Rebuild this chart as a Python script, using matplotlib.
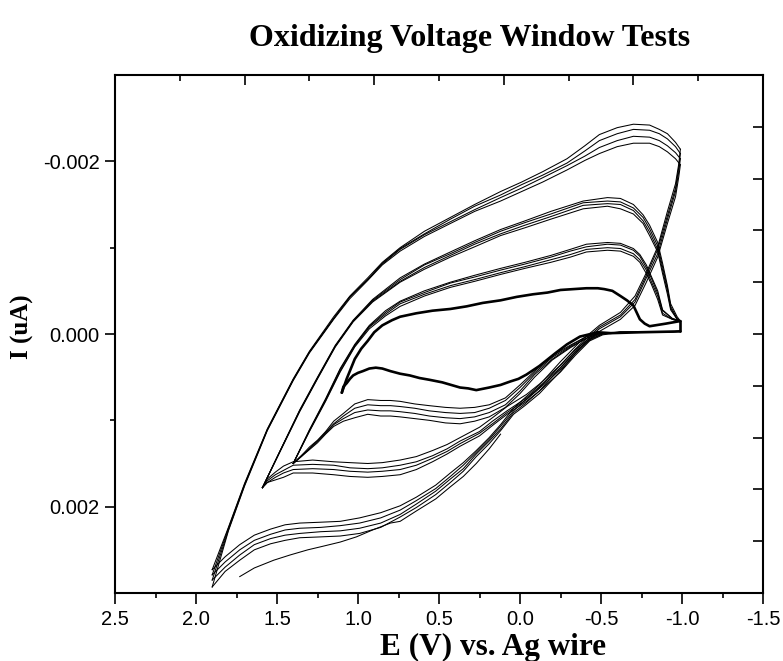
import matplotlib
matplotlib.use("Agg")
import matplotlib.pyplot as plt
from matplotlib.ticker import FixedLocator, FixedFormatter, NullFormatter

plt.rcParams['font.family'] = ['Liberation Sans', 'DejaVu Sans']
plt.rcParams['axes.unicode_minus'] = False

SCALE = 1e-3  # all current values below are given in units of 1e-3

# ---------------- Family 1: window up to 1.1 V (thick, noisy trace) ----------
E1_up = [1.10, 1.07, 1.02, 0.98, 0.94, 0.90, 0.85, 0.79, 0.74, 0.64, 0.54, 0.43, 0.33,
         0.23, 0.12, 0.02, -0.08, -0.17, -0.25, -0.33, -0.41, -0.48, -0.52, -0.57, -0.62,
         -0.66, -0.70, -0.72, -0.74, -0.77, -0.80, -0.90, -0.99]
I1_up = [0.68, 0.52, 0.29, 0.17, 0.08, -0.02, -0.10, -0.16, -0.20, -0.24, -0.27, -0.29,
         -0.32, -0.36, -0.39, -0.43, -0.46, -0.48, -0.51, -0.52, -0.53, -0.53, -0.52, -0.50,
         -0.44, -0.39, -0.33, -0.25, -0.17, -0.12, -0.09, -0.12, -0.15]
E1_fw = [-0.99, -0.74, -0.56, -0.48, -0.37, -0.29, -0.22, -0.12, -0.04, 0.01, 0.06, 0.12,
         0.19, 0.27, 0.32, 0.37, 0.48, 0.56, 0.62, 0.68, 0.74, 0.80, 0.85, 0.89, 0.93, 0.97,
         1.00, 1.03, 1.05, 1.07, 1.09, 1.10]
I1_fw = [-0.03, -0.02, -0.01, -0.02, 0.03, 0.12, 0.22, 0.37, 0.47, 0.52, 0.55, 0.59, 0.62,
         0.65, 0.63, 0.62, 0.56, 0.53, 0.51, 0.48, 0.46, 0.43, 0.40, 0.39, 0.40, 0.43, 0.45,
         0.48, 0.52, 0.57, 0.61, 0.68]

# ---------------- Family 2: window up to 1.4 V --------------------------------
E2_up = [1.40, 1.30, 1.20, 1.11, 1.02, 0.93, 0.83, 0.74, 0.59, 0.43, 0.28, 0.12, -0.03,
         -0.19, -0.31, -0.41, -0.54, -0.62, -0.70, -0.74, -0.78, -0.81, -0.85, -0.88,
         -0.94, -0.99]
I2_up_c1 = [1.50, 1.11, 0.75, 0.40, 0.12, -0.10, -0.27, -0.38, -0.50, -0.60, -0.68, -0.76,
            -0.83, -0.91, -0.98, -1.04, -1.06, -1.05, -0.99, -0.92, -0.80, -0.67, -0.50,
            -0.28, -0.18, -0.15]
I2_up_c2 = [1.50, 1.12, 0.76, 0.41, 0.13, -0.09, -0.25, -0.37, -0.48, -0.59, -0.66, -0.74,
            -0.81, -0.89, -0.96, -1.01, -1.04, -1.03, -0.97, -0.90, -0.77, -0.65, -0.47,
            -0.27, -0.18, -0.15]
I2_up_c3 = [1.50, 1.12, 0.77, 0.43, 0.14, -0.08, -0.23, -0.35, -0.46, -0.56, -0.63, -0.71,
            -0.78, -0.86, -0.92, -0.98, -1.00, -0.99, -0.93, -0.86, -0.74, -0.61, -0.44,
            -0.24, -0.17, -0.15]
I2_up_c4 = [1.50, 1.13, 0.78, 0.44, 0.15, -0.06, -0.21, -0.32, -0.44, -0.54, -0.61, -0.69,
            -0.76, -0.83, -0.89, -0.95, -0.97, -0.96, -0.90, -0.83, -0.70, -0.58, -0.40,
            -0.22, -0.17, -0.14]
E2_fw = [-0.99, -0.74, -0.62, -0.49, -0.41, -0.31, -0.20, -0.09, 0.00, 0.09, 0.19, 0.28,
         0.37, 0.46, 0.56, 0.65, 0.74, 0.80, 0.86, 0.94, 1.02, 1.09, 1.15, 1.20, 1.25, 1.30,
         1.35, 1.40]
I2_fw_c1 = [-0.03, -0.02, -0.02, -0.01, 0.03, 0.13, 0.25, 0.43, 0.59, 0.74, 0.82, 0.85,
            0.86, 0.85, 0.83, 0.81, 0.78, 0.77, 0.77, 0.76, 0.81, 0.92, 1.01, 1.13, 1.23,
            1.31, 1.41, 1.50]
I2_fw_c2 = [-0.03, -0.02, -0.02, -0.01, 0.03, 0.14, 0.27, 0.45, 0.62, 0.77, 0.86, 0.91,
            0.92, 0.91, 0.89, 0.86, 0.84, 0.83, 0.83, 0.82, 0.86, 0.95, 1.04, 1.14, 1.24,
            1.33, 1.41, 1.50]
I2_fw_c3 = [-0.03, -0.02, -0.02, -0.01, 0.05, 0.15, 0.29, 0.47, 0.66, 0.82, 0.91, 0.96,
            0.98, 0.97, 0.95, 0.92, 0.90, 0.89, 0.89, 0.88, 0.91, 0.98, 1.05, 1.15, 1.24,
            1.33, 1.42, 1.50]
I2_fw_c4 = [-0.03, -0.02, -0.02, 0.00, 0.05, 0.16, 0.30, 0.50, 0.69, 0.85, 0.96, 1.01,
            1.04, 1.03, 1.00, 0.98, 0.96, 0.95, 0.95, 0.93, 0.97, 1.01, 1.07, 1.16, 1.26,
            1.34, 1.42, 1.50]

# ---------------- Family 3: window up to 1.6 V --------------------------------
E3_up = [1.59, 1.48, 1.36, 1.25, 1.14, 1.03, 0.91, 0.74, 0.59, 0.43, 0.28, 0.12, -0.03,
         -0.19, -0.39, -0.54, -0.62, -0.70, -0.76, -0.80, -0.85, -0.88, -0.91, -0.93,
         -0.97, -0.99]
I3_up_c1 = [1.78, 1.35, 0.88, 0.50, 0.13, -0.16, -0.40, -0.65, -0.81, -0.95, -1.08, -1.21,
            -1.31, -1.42, -1.54, -1.58, -1.57, -1.50, -1.38, -1.26, -1.06, -0.82, -0.56,
            -0.35, -0.20, -0.15]
I3_up_c2 = [1.78, 1.35, 0.89, 0.51, 0.14, -0.15, -0.39, -0.63, -0.80, -0.93, -1.06, -1.19,
            -1.29, -1.39, -1.52, -1.54, -1.53, -1.46, -1.35, -1.22, -1.02, -0.78, -0.53,
            -0.32, -0.18, -0.15]
I3_up_c3 = [1.78, 1.35, 0.89, 0.51, 0.14, -0.15, -0.38, -0.61, -0.77, -0.91, -1.04, -1.16,
            -1.26, -1.36, -1.49, -1.51, -1.50, -1.43, -1.31, -1.18, -0.98, -0.74, -0.50,
            -0.30, -0.17, -0.14]
I3_up_c4 = [1.78, 1.36, 0.90, 0.52, 0.15, -0.14, -0.37, -0.60, -0.75, -0.89, -1.01, -1.14,
            -1.23, -1.33, -1.45, -1.48, -1.45, -1.39, -1.28, -1.14, -0.95, -0.70, -0.46,
            -0.28, -0.17, -0.14]
E3_fw = [-0.99, -0.74, -0.62, -0.51, -0.43, -0.34, -0.25, -0.12, -0.04, 0.08, 0.17, 0.25,
         0.37, 0.45, 0.54, 0.64, 0.74, 0.85, 0.94, 1.05, 1.15, 1.28, 1.40, 1.46, 1.51, 1.56,
         1.59]
I3_fw_c1 = [-0.03, -0.02, -0.02, -0.01, 0.05, 0.18, 0.36, 0.58, 0.70, 0.84, 0.97, 1.08,
            1.20, 1.28, 1.35, 1.42, 1.46, 1.49, 1.50, 1.49, 1.48, 1.46, 1.48, 1.53, 1.60,
            1.68, 1.78]
I3_fw_c2 = [-0.03, -0.02, -0.02, 0.00, 0.06, 0.21, 0.39, 0.61, 0.74, 0.89, 1.01, 1.13,
            1.24, 1.33, 1.41, 1.48, 1.52, 1.55, 1.56, 1.55, 1.52, 1.51, 1.52, 1.58, 1.63,
            1.70, 1.78]
I3_fw_c3 = [-0.03, -0.02, -0.02, 0.00, 0.07, 0.23, 0.41, 0.63, 0.76, 0.91, 1.04, 1.15,
            1.27, 1.36, 1.44, 1.52, 1.57, 1.59, 1.60, 1.59, 1.57, 1.56, 1.57, 1.61, 1.66,
            1.72, 1.78]
I3_fw_c4 = [-0.03, -0.02, -0.02, 0.01, 0.08, 0.25, 0.44, 0.66, 0.78, 0.93, 1.06, 1.18,
            1.30, 1.39, 1.48, 1.57, 1.63, 1.65, 1.66, 1.65, 1.63, 1.61, 1.61, 1.66, 1.69,
            1.72, 1.78]

# ---------------- Family 4: window up to 1.9 V --------------------------------
E4_up = [1.90, 1.80, 1.70, 1.56, 1.40, 1.30, 1.15, 1.05, 0.94, 0.85, 0.74, 0.59, 0.43,
         0.28, 0.12, -0.01, -0.14, -0.29, -0.40, -0.49, -0.60, -0.70, -0.80, -0.86, -0.91,
         -0.96, -0.99]
I4_up_c1 = [2.73, 2.24, 1.73, 1.10, 0.52, 0.20, -0.20, -0.44, -0.65, -0.83, -1.00, -1.19,
            -1.35, -1.50, -1.65, -1.76, -1.88, -2.03, -2.18, -2.31, -2.39, -2.43, -2.42,
            -2.37, -2.32, -2.22, -2.14]
I4_up_c2 = [2.79, 2.25, 1.74, 1.11, 0.53, 0.21, -0.18, -0.43, -0.63, -0.82, -0.99, -1.16,
            -1.33, -1.48, -1.61, -1.73, -1.84, -1.98, -2.12, -2.24, -2.32, -2.37, -2.36,
            -2.32, -2.26, -2.17, -2.09]
I4_up_c3 = [2.85, 2.27, 1.75, 1.11, 0.53, 0.21, -0.18, -0.43, -0.63, -0.81, -0.98, -1.15,
            -1.30, -1.44, -1.58, -1.69, -1.81, -1.95, -2.06, -2.16, -2.24, -2.29, -2.28,
            -2.24, -2.18, -2.10, -2.03]
I4_up_c4 = [2.93, 2.28, 1.76, 1.12, 0.54, 0.22, -0.17, -0.41, -0.62, -0.80, -0.96, -1.13,
            -1.28, -1.42, -1.54, -1.65, -1.76, -1.90, -2.01, -2.09, -2.17, -2.21, -2.21,
            -2.17, -2.11, -2.03, -1.96]
E4_fw = [-0.99, -0.98, -0.96, -0.91, -0.85, -0.78, -0.71, -0.62, -0.49, -0.37, -0.25,
         -0.12, -0.03, 0.04, 0.12, 0.19, 0.27, 0.35, 0.43, 0.52, 0.64, 0.74, 0.86, 0.99,
         1.11, 1.23, 1.36, 1.45, 1.54, 1.64, 1.73, 1.82, 1.90]
I4_fw_c1 = [-2.14, -1.97, -1.74, -1.42, -1.01, -0.71, -0.44, -0.25, -0.10, 0.09, 0.32,
            0.59, 0.74, 0.86, 1.05, 1.20, 1.35, 1.49, 1.61, 1.75, 1.89, 1.99, 2.07, 2.13,
            2.17, 2.18, 2.19, 2.21, 2.26, 2.33, 2.44, 2.58, 2.73]
I4_fw_c2 = [-2.09, -1.93, -1.69, -1.37, -0.98, -0.68, -0.40, -0.22, -0.08, 0.12, 0.36,
            0.62, 0.77, 0.89, 1.07, 1.22, 1.37, 1.52, 1.65, 1.79, 1.93, 2.04, 2.13, 2.19,
            2.22, 2.24, 2.25, 2.27, 2.32, 2.39, 2.50, 2.64, 2.79]
I4_fw_c3 = [-2.03, -1.88, -1.65, -1.33, -0.93, -0.65, -0.37, -0.20, -0.06, 0.14, 0.39,
            0.66, 0.81, 0.91, 1.10, 1.24, 1.39, 1.56, 1.68, 1.82, 1.97, 2.09, 2.19, 2.25,
            2.28, 2.29, 2.31, 2.33, 2.37, 2.44, 2.56, 2.70, 2.85]
I4_fw_c4 = [-1.96, -1.82, -1.59, -1.28, -0.89, -0.60, -0.33, -0.17, -0.03, 0.16, 0.43,
            0.69, 0.83, 0.93, 1.12, 1.27, 1.42, 1.59, 1.72, 1.86, 2.01, 2.12, 2.24, 2.31,
            2.34, 2.35, 2.36, 2.39, 2.43, 2.50, 2.62, 2.75, 2.93]
# first (partial) scan of the 1.9 V window
E4_init = [1.73, 1.64, 1.52, 1.42, 1.31, 1.22, 1.11, 1.01, 0.91, 0.80, 0.74, 0.64, 0.52,
           0.43, 0.35, 0.27, 0.19, 0.12]
I4_init = [2.81, 2.71, 2.62, 2.56, 2.50, 2.46, 2.41, 2.35, 2.27, 2.19, 2.17, 2.05, 1.91,
           1.77, 1.65, 1.50, 1.33, 1.16]

# ---------------- axis text -----------------------------------------------------
x_ticks = [2.5, 2.0, 1.5, 1.0, 0.5, 0.0, -0.5, -1.0, -1.5]
x_tick_labels = ["2.5", "2.0", "1.5", "1.0", "0.5", "0.0", "-0.5", "-1.0", "-1.5"]
x_minor = [2.25, 1.75, 1.25, 0.75, 0.25, -0.25, -0.75, -1.25]
y_ticks = [-0.002, 0.0, 0.002]
y_tick_labels = ["-0.002", "0.000", "0.002"]
y_minor = [-0.001, 0.001]
title = "Oxidizing Voltage Window Tests"
x_label = "E (V) vs. Ag wire"
y_label = "I (uA)"

W, H = 783, 661
fig = plt.figure(figsize=(W / 100, H / 100), dpi=100)
ax = fig.add_axes([115 / W, 68 / H, 648 / W, 518 / H])

thin = dict(color='black', lw=0.75, solid_joinstyle='round')
thick = dict(color='black', lw=1.9, solid_joinstyle='round', solid_capstyle='round')


def sc(vals):
    return [v * SCALE for v in vals]


# family 1
ax.plot(E1_up, sc(I1_up), **thick)
ax.plot(E1_fw, sc(I1_fw), **thick)
ax.plot([E1_up[-1], E1_fw[0]], sc([I1_up[-1], I1_fw[0]]), **thick)

for up in (I2_up_c1, I2_up_c2, I2_up_c3, I2_up_c4):
    ax.plot(E2_up, sc(up), **thin)
for fw in (I2_fw_c1, I2_fw_c2, I2_fw_c3, I2_fw_c4):
    ax.plot(E2_fw, sc(fw), **thin)
for up in (I3_up_c1, I3_up_c2, I3_up_c3, I3_up_c4):
    ax.plot(E3_up, sc(up), **thin)
for fw in (I3_fw_c1, I3_fw_c2, I3_fw_c3, I3_fw_c4):
    ax.plot(E3_fw, sc(fw), **thin)
for up in (I4_up_c1, I4_up_c2, I4_up_c3, I4_up_c4):
    ax.plot(E4_up, sc(up), **thin)
for fw in (I4_fw_c1, I4_fw_c2, I4_fw_c3, I4_fw_c4):
    ax.plot(E4_fw, sc(fw), **thin)
ax.plot(E4_init, sc(I4_init), **thin)
# short vertical joins at the -1.0 V turning point
for up, fw in ((I2_up_c1, I2_fw_c1), (I3_up_c1, I3_fw_c1)):
    ax.plot([E2_up[-1], E2_fw[0]], sc([up[-1], fw[0]]), **thin)

ax.set_xlim(2.5, -1.5)
ax.set_ylim(0.003, -0.003)

ax.xaxis.set_major_locator(FixedLocator(x_ticks))
ax.xaxis.set_major_formatter(FixedFormatter(x_tick_labels))
ax.xaxis.set_minor_locator(FixedLocator(x_minor))
ax.yaxis.set_major_locator(FixedLocator(y_ticks))
ax.yaxis.set_major_formatter(FixedFormatter(y_tick_labels))
ax.yaxis.set_minor_locator(FixedLocator(y_minor))
ax.xaxis.set_minor_formatter(NullFormatter())
ax.yaxis.set_minor_formatter(NullFormatter())

ax.tick_params(axis='both', which='major', direction='out', width=1.2,
               labelsize=14.5, pad=4, top=False, right=False)
ax.tick_params(axis='x', which='major', length=8)
ax.tick_params(axis='y', which='major', length=7)
ax.tick_params(axis='both', which='minor', direction='out', width=1.2, length=3.5,
               top=False, right=False)
for sp in ax.spines.values():
    sp.set_linewidth(1.5)

# top and right frame ticks (independent, unlabeled)
axt = ax.twiny()
axt.set_xlim(0, 10)
axt.xaxis.set_major_locator(FixedLocator([2, 4, 6, 8]))
axt.xaxis.set_minor_locator(FixedLocator([1, 3, 5, 7, 9]))
axt.tick_params(axis='x', which='major', direction='in', length=7, width=1.2, labeltop=False)
axt.tick_params(axis='x', which='minor', direction='in', length=4.5, width=1.2)
axt.xaxis.set_major_formatter(NullFormatter())
axr = ax.twinx()
axr.set_ylim(0, 10)
axr.yaxis.set_major_locator(FixedLocator([1, 2, 3, 4, 5, 6, 7, 8, 9]))
axr.yaxis.set_minor_locator(FixedLocator([]))
axr.tick_params(axis='y', which='major', direction='in', length=7, width=1.2, labelright=False)
for a in (axt, axr):
    for sp in a.spines.values():
        sp.set_visible(False)

serif = ['Liberation Serif', 'DejaVu Serif']
fig.text(469.5 / W, 1 - 46 / H, title, ha='center', va='baseline',
         fontsize=23, fontweight='bold', family=serif)
fig.text(493 / W, 1 - 655 / H, x_label, ha='center', va='baseline',
         fontsize=22.5, fontweight='bold', family=serif)
fig.text(22 / W, 1 - 327 / H, y_label, ha='center', va='center', rotation=90,
         fontsize=18, fontweight='bold', family=serif)

fig.savefig("out.png", dpi=100)
